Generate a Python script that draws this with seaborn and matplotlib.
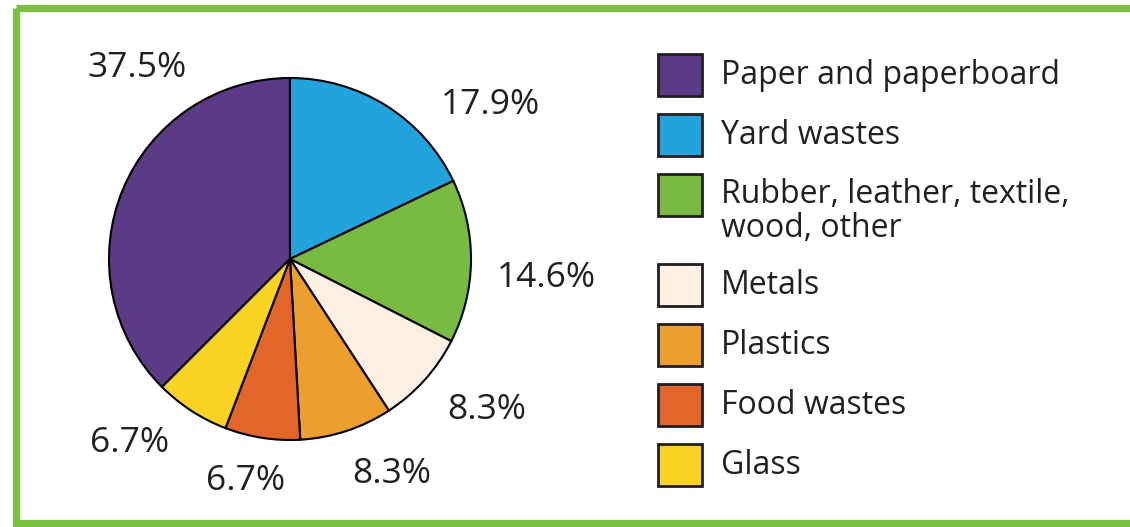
import matplotlib
matplotlib.use('Agg')
import matplotlib.pyplot as plt
import seaborn as sns
from matplotlib.patches import Rectangle

categories = [
    "Paper and paperboard",
    "Yard wastes",
    "Rubber, leather, textile,\nwood, other",
    "Metals",
    "Plastics",
    "Food wastes",
    "Glass",
]
shares = [37.5, 17.9, 14.6, 8.3, 8.3, 6.7, 6.7]
colors = ["#5B3A86", "#23A3DC", "#79BA43", "#FDF0E2", "#EC9F2F", "#E2652A", "#FAD224"]

# where each percentage sits, in pie units (radius = 1), same order as categories
label_xy = [(-0.845, 1.055), (1.105, 0.851), (1.414, -0.105), (1.088, -0.834),
            (0.564, -1.188), (-0.243, -1.227), (-0.884, -1.017)]

sns.set_theme(style="white")
plt.rcParams['font.family'] = ['Open Sans', 'DejaVu Sans']
ink = "#231F20"

W, H = 1130, 527
fig = plt.figure(figsize=(W / 100, H / 100), dpi=100)

# full-figure axes in pixel units for the frame and the legend
bg = fig.add_axes([0, 0, 1, 1])
bg.set_xlim(0, W)
bg.set_ylim(H, 0)
bg.axis('off')
bg.add_patch(Rectangle((15.5, 7.5), 1200, 515.5, fill=False, ec="#7AC142", lw=5.2, clip_on=False))

# pie
cx, cy, r = 290, 259, 181
pad = 1.03
ax = fig.add_axes([(cx - r * pad) / W, (H - cy - r * pad) / H, 2 * r * pad / W, 2 * r * pad / H])
ax.pie(shares, colors=colors, startangle=225, counterclock=False, radius=1,
       wedgeprops=dict(edgecolor='black', linewidth=1.5))
ax.set_xlim(-pad, pad)
ax.set_ylim(-pad, pad)
ax.axis('off')
for (x, y), s in zip(label_xy, shares):
    ax.text(x, y, f"{s}%", ha='center', va='center', fontsize=25.5, color=ink)

# legend
row_y = 75
for name, col in zip(categories, colors):
    extra = name.count("\n")
    bg.add_patch(Rectangle((658, row_y - 21), 44, 42, fc=col, ec=ink, lw=2))
    bg.text(721, row_y + extra * 33 / 2, name, ha='left', va='center',
            fontsize=23, linespacing=1.03, color=ink)
    row_y += 60 + extra * 30

fig.savefig('out.png', dpi=100)
